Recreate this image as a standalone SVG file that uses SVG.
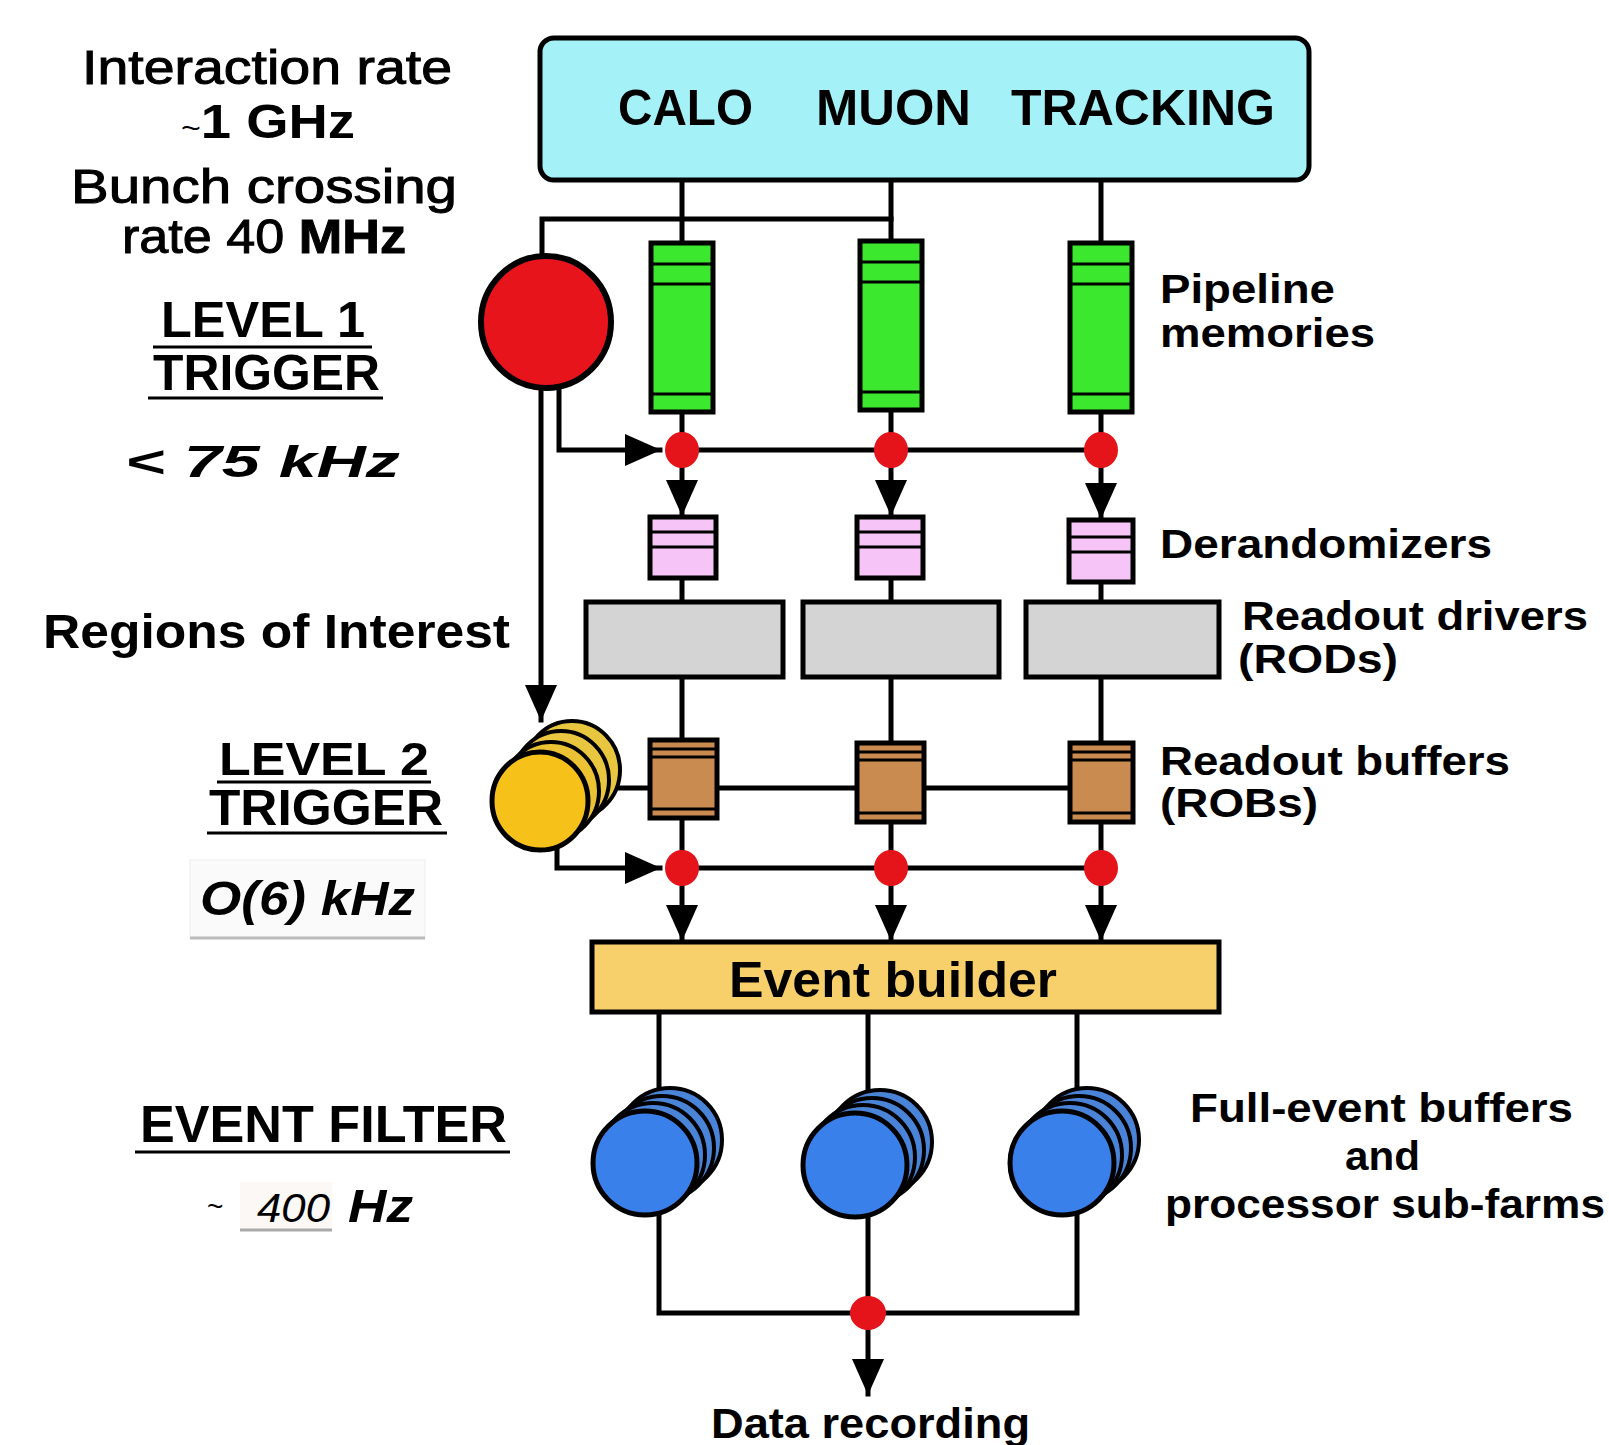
<svg xmlns="http://www.w3.org/2000/svg" width="1609" height="1445" viewBox="0 0 1609 1445">
<style>
  .ln{fill:none;stroke:#000;stroke-width:5;stroke-linecap:square}
  .thin{fill:none;stroke:#000;stroke-width:3}
  .box{stroke:#000;stroke-width:5}
  .dot{fill:#E5141A}
  .t{font-family:"Liberation Sans",Arial,sans-serif;fill:#000}
  .b{font-weight:bold}
  .i{font-style:italic}
  .heavy{stroke:#000;stroke-width:1}
  .lbl{font-family:"Liberation Sans",Arial,sans-serif;font-weight:bold;font-size:40px;fill:#000}
  .ul{stroke:#000;stroke-width:3}
</style>
<defs>
  <marker id="arr" markerUnits="userSpaceOnUse" viewBox="0 0 36 32" markerWidth="36" markerHeight="32" refX="35" refY="16" orient="auto">
    <path d="M0,0 L36,16 L0,32 z" fill="#000"/>
  </marker>
</defs>
<rect width="1609" height="1445" fill="#fff"/>

<g id="connectors">
  <path class="ln" d="M682,181 V244"/>
  <path class="ln" d="M891,181 V242"/>
  <path class="ln" d="M1101,181 V244"/>
  <path class="ln" d="M542,257 V219 H891"/>
  <path class="ln" d="M682,412 V450"/>
  <path class="ln" d="M891,410 V450"/>
  <path class="ln" d="M1101,412 V450"/>
  <path class="ln" d="M559,385 V450 H660" marker-end="url(#arr)"/>
  <path class="ln" d="M682,450 H1101"/>
  <path class="ln" d="M682,466 V515" marker-end="url(#arr)"/>
  <path class="ln" d="M891,466 V515" marker-end="url(#arr)"/>
  <path class="ln" d="M1101,466 V518" marker-end="url(#arr)"/>
  <path class="ln" d="M682,578 V602"/>
  <path class="ln" d="M891,578 V602"/>
  <path class="ln" d="M1101,582 V602"/>
  <path class="ln" d="M682,677 V740"/>
  <path class="ln" d="M891,677 V743"/>
  <path class="ln" d="M1101,677 V743"/>
  <path class="ln" d="M541,389 V720" marker-end="url(#arr)"/>
  <path class="ln" d="M600,788 H1101"/>
  <path class="ln" d="M682,818 V868"/>
  <path class="ln" d="M891,822 V868"/>
  <path class="ln" d="M1101,822 V868"/>
  <path class="ln" d="M557,844 V868 H660" marker-end="url(#arr)"/>
  <path class="ln" d="M682,868 H1101"/>
  <path class="ln" d="M682,884 V940" marker-end="url(#arr)"/>
  <path class="ln" d="M891,884 V940" marker-end="url(#arr)"/>
  <path class="ln" d="M1101,884 V940" marker-end="url(#arr)"/>
  <path class="ln" d="M659,1012 V1100"/>
  <path class="ln" d="M868,1012 V1100"/>
  <path class="ln" d="M1077,1012 V1100"/>
  <path class="ln" d="M659,1210 V1313 H1077 V1210"/>
  <path class="ln" d="M868,1210 V1313"/>
  <path class="ln" d="M868,1330 V1394" marker-end="url(#arr)"/>
</g>

<g id="detectors">
  <rect class="box" x="540" y="38" width="769" height="142" rx="14" fill="#A4F1F7"/>
  <text class="t b" x="618" y="125" font-size="50" textLength="135" lengthAdjust="spacingAndGlyphs">CALO</text>
  <text class="t b" x="816" y="125" font-size="50" textLength="155" lengthAdjust="spacingAndGlyphs">MUON</text>
  <text class="t b" x="1011" y="125" font-size="50" textLength="264" lengthAdjust="spacingAndGlyphs">TRACKING</text>
</g>

<g id="level1-trigger">
  <ellipse cx="546" cy="322" rx="65" ry="66" fill="#E8141C" stroke="#000" stroke-width="6"/>
</g>

<g id="pipeline-calo">
  <rect class="box" x="651" y="243" width="62" height="169" fill="#3BE82E"/>
  <path class="thin" d="M651,264 H713 M651,284 H713 M651,394 H713"/>
</g>
<g id="pipeline-muon">
  <rect class="box" x="860" y="241" width="62" height="169" fill="#3BE82E"/>
  <path class="thin" d="M860,262 H922 M860,282 H922 M860,392 H922"/>
</g>
<g id="pipeline-tracking">
  <rect class="box" x="1070" y="243" width="62" height="169" fill="#3BE82E"/>
  <path class="thin" d="M1070,264 H1132 M1070,284 H1132 M1070,394 H1132"/>
</g>

<g id="l1-junctions">
  <ellipse class="dot" cx="682" cy="450" rx="17" ry="18"/>
  <ellipse class="dot" cx="891" cy="450" rx="17" ry="18"/>
  <ellipse class="dot" cx="1101" cy="450" rx="17" ry="18"/>
</g>

<g id="derandomizer-calo">
  <rect class="box" x="650" y="517" width="66" height="61" fill="#F6C4F6"/>
  <path class="thin" d="M650,532 H716 M650,547 H716"/>
</g>
<g id="derandomizer-muon">
  <rect class="box" x="857" y="517" width="66" height="61" fill="#F6C4F6"/>
  <path class="thin" d="M857,532 H923 M857,547 H923"/>
</g>
<g id="derandomizer-tracking">
  <rect class="box" x="1069" y="520" width="64" height="62" fill="#F6C4F6"/>
  <path class="thin" d="M1069,537 H1133 M1069,552 H1133"/>
</g>

<g id="rod-calo"><rect class="box" x="586" y="602" width="197" height="75" fill="#D4D4D4"/></g>
<g id="rod-muon"><rect class="box" x="803" y="602" width="196" height="75" fill="#D4D4D4"/></g>
<g id="rod-tracking"><rect class="box" x="1026" y="602" width="193" height="75" fill="#D4D4D4"/></g>

<g id="level2-trigger">
  <ellipse cx="572" cy="770" rx="48" ry="49" fill="#E9C640" stroke="#000" stroke-width="4"/>
  <ellipse cx="561" cy="780" rx="48" ry="49" fill="#E9C640" stroke="#000" stroke-width="4"/>
  <ellipse cx="551" cy="791" rx="48" ry="49" fill="#ECC235" stroke="#000" stroke-width="4"/>
  <ellipse cx="540" cy="801" rx="48" ry="49" fill="#F6C21A" stroke="#000" stroke-width="5"/>
</g>

<g id="rob-calo">
  <rect class="box" x="650" y="740" width="67" height="78" fill="#C98B50"/>
  <path class="thin" d="M650,749 H717 M650,757 H717 M650,809 H717"/>
</g>
<g id="rob-muon">
  <rect class="box" x="857" y="743" width="67" height="79" fill="#C98B50"/>
  <path class="thin" d="M857,752 H924 M857,760 H924 M857,813 H924"/>
</g>
<g id="rob-tracking">
  <rect class="box" x="1070" y="743" width="63" height="79" fill="#C98B50"/>
  <path class="thin" d="M1070,752 H1133 M1070,760 H1133 M1070,813 H1133"/>
</g>

<g id="l2-junctions">
  <ellipse class="dot" cx="682" cy="868" rx="17" ry="18"/>
  <ellipse class="dot" cx="891" cy="868" rx="17" ry="18"/>
  <ellipse class="dot" cx="1101" cy="868" rx="17" ry="18"/>
</g>

<g id="event-builder">
  <rect class="box" x="592" y="942" width="627" height="70" fill="#F7CF6B"/>
  <text class="t b" x="729" y="997" font-size="50" textLength="328" lengthAdjust="spacingAndGlyphs">Event builder</text>
</g>

<g id="subfarm-1">
  <ellipse cx="670" cy="1140" rx="52" ry="52" fill="#4A84D8" stroke="#000" stroke-width="4"/>
  <ellipse cx="662" cy="1148" rx="52" ry="52" fill="#4A84D8" stroke="#000" stroke-width="4"/>
  <ellipse cx="653" cy="1155" rx="52" ry="52" fill="#4A84D8" stroke="#000" stroke-width="4"/>
  <ellipse cx="645" cy="1163" rx="52" ry="52" fill="#3A80EA" stroke="#000" stroke-width="5"/>
</g>
<g id="subfarm-2">
  <ellipse cx="880" cy="1142" rx="52" ry="52" fill="#4A84D8" stroke="#000" stroke-width="4"/>
  <ellipse cx="872" cy="1150" rx="52" ry="52" fill="#4A84D8" stroke="#000" stroke-width="4"/>
  <ellipse cx="863" cy="1157" rx="52" ry="52" fill="#4A84D8" stroke="#000" stroke-width="4"/>
  <ellipse cx="855" cy="1165" rx="52" ry="52" fill="#3A80EA" stroke="#000" stroke-width="5"/>
</g>
<g id="subfarm-3">
  <ellipse cx="1087" cy="1140" rx="52" ry="52" fill="#4A84D8" stroke="#000" stroke-width="4"/>
  <ellipse cx="1079" cy="1148" rx="52" ry="52" fill="#4A84D8" stroke="#000" stroke-width="4"/>
  <ellipse cx="1070" cy="1155" rx="52" ry="52" fill="#4A84D8" stroke="#000" stroke-width="4"/>
  <ellipse cx="1062" cy="1163" rx="52" ry="52" fill="#3A80EA" stroke="#000" stroke-width="5"/>
</g>

<g id="ef-junction">
  <ellipse class="dot" cx="868" cy="1313" rx="18" ry="17"/>
</g>

<g id="data-recording">
  <text class="t b" x="711" y="1438" font-size="42" textLength="319" lengthAdjust="spacingAndGlyphs">Data recording</text>
</g>

<g id="left-labels">
  <text class="t heavy" x="82" y="84" font-size="48" textLength="370" lengthAdjust="spacingAndGlyphs">Interaction rate</text>
  <text class="t b" x="181" y="138" font-size="48" textLength="174" lengthAdjust="spacingAndGlyphs"><tspan font-weight="normal" font-size="30">~</tspan>1 GHz</text>
  <text class="t heavy" x="71" y="203" font-size="48" textLength="386" lengthAdjust="spacingAndGlyphs">Bunch crossing</text>
  <text class="t heavy" x="122" y="253" font-size="48" textLength="284" lengthAdjust="spacingAndGlyphs">rate 40 <tspan font-weight="bold">MHz</tspan></text>
  <text class="t b" x="161" y="337" font-size="50" textLength="204" lengthAdjust="spacingAndGlyphs">LEVEL 1</text>
  <line class="ul" x1="153" y1="347" x2="372" y2="347"/>
  <text class="t b" x="153" y="390" font-size="50" textLength="227" lengthAdjust="spacingAndGlyphs">TRIGGER</text>
  <line class="ul" x1="148" y1="398" x2="383" y2="398"/>
  <text class="t b i" x="125" y="477" font-size="44" textLength="275" lengthAdjust="spacingAndGlyphs">&lt; 75 kHz</text>
  <text class="t b" x="43" y="648" font-size="48" textLength="467" lengthAdjust="spacingAndGlyphs">Regions of Interest</text>
  <text class="t b" x="219" y="775" font-size="46" textLength="210" lengthAdjust="spacingAndGlyphs">LEVEL 2</text>
  <line class="ul" x1="217" y1="782" x2="431" y2="782"/>
  <text class="t b" x="209" y="825" font-size="50" textLength="234" lengthAdjust="spacingAndGlyphs">TRIGGER</text>
  <line class="ul" x1="207" y1="833" x2="447" y2="833"/>
  <rect x="190" y="860" width="235" height="78" fill="#FAFAFA" stroke="#EEEEEE" stroke-width="1"/>
  <line x1="190" y1="938" x2="425" y2="938" stroke="#BBBBBB" stroke-width="3"/>
  <text class="t b i" x="200" y="915" font-size="48" textLength="215" lengthAdjust="spacingAndGlyphs">O(6) kHz</text>
  <text class="t b" x="140" y="1142" font-size="52" textLength="367" lengthAdjust="spacingAndGlyphs">EVENT FILTER</text>
  <line class="ul" x1="135" y1="1152" x2="510" y2="1152"/>
  <text class="t" x="207" y="1216" font-size="28">~</text>
  <rect x="240" y="1182" width="92" height="48" fill="#FBF8F6"/>
  <line x1="240" y1="1230" x2="332" y2="1230" stroke="#AAAAAA" stroke-width="3"/>
  <text class="t i" x="257" y="1222" font-size="40" textLength="73" lengthAdjust="spacingAndGlyphs">400</text>
  <text class="t b i" x="348" y="1222" font-size="46" textLength="65" lengthAdjust="spacingAndGlyphs">Hz</text>
</g>

<g id="right-labels">
  <text class="lbl" x="1160" y="303" textLength="175" lengthAdjust="spacingAndGlyphs">Pipeline</text>
  <text class="lbl" x="1160" y="347" textLength="215" lengthAdjust="spacingAndGlyphs">memories</text>
  <text class="lbl" x="1160" y="558" textLength="332" lengthAdjust="spacingAndGlyphs">Derandomizers</text>
  <text class="lbl" x="1242" y="630" textLength="346" lengthAdjust="spacingAndGlyphs">Readout drivers</text>
  <text class="lbl" x="1238" y="673" textLength="160" lengthAdjust="spacingAndGlyphs">(RODs)</text>
  <text class="lbl" x="1160" y="775" textLength="350" lengthAdjust="spacingAndGlyphs">Readout buffers</text>
  <text class="lbl" x="1160" y="817" textLength="158" lengthAdjust="spacingAndGlyphs">(ROBs)</text>
  <text class="lbl" x="1190" y="1122" textLength="383" lengthAdjust="spacingAndGlyphs">Full-event buffers</text>
  <text class="lbl" x="1345" y="1170" textLength="75" lengthAdjust="spacingAndGlyphs">and</text>
  <text class="lbl" x="1165" y="1218" textLength="440" lengthAdjust="spacingAndGlyphs">processor sub-farms</text>
</g>
</svg>
